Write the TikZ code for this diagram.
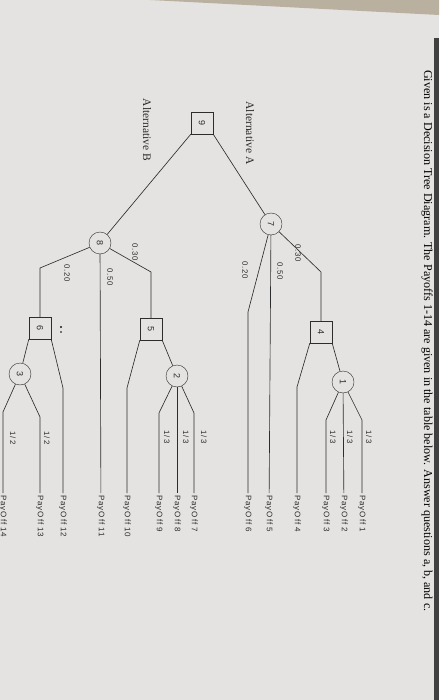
\documentclass[tikz,border=0pt]{standalone}
\usepackage{fontspec}
\setmainfont{Liberation Serif}
\newfontfamily\payfont[LetterSpace=12]{Liberation Sans}
\usetikzlibrary{positioning}

\definecolor{paper}{RGB}{229,227,225}
\definecolor{ink}{RGB}{45,45,45}
\definecolor{rim}{RGB}{185,176,160}

\tikzset{
  sq/.style={draw=ink, rotate=-90, minimum size=22pt, inner sep=0pt, text=ink, font=\payfont\fontsize{9}{9}\selectfont},
  ch/.style={draw=ink, circle, rotate=-90, minimum size=22pt, inner sep=0pt, text=ink, font=\payfont\fontsize{9}{9}\selectfont},
  pay/.style={rotate=-90, anchor=west, inner sep=2pt, text=ink, font=\payfont\fontsize{8}{8}\selectfont},
  prob/.style={rotate=-90, inner sep=0pt, text=ink, font=\payfont\fontsize{7.8}{8}\selectfont},
  alt/.style={rotate=-90, inner sep=0pt, text=ink, font=\fontsize{11.5}{12}\selectfont},
  br/.style={draw=ink, line width=0.65pt}
}

\begin{document}
\begin{tikzpicture}[x=1pt, y=-1pt]
\useasboundingbox (0,0) rectangle (439,700);
\fill[paper] (0,0) rectangle (439,700);
\fill[rim] (150,0) -- (439,0) -- (439,15) -- cycle;
\fill[black!75] (434,38) rectangle (439,700);

\def\yend{493}
\def\ybend{413}

\node[rotate=-90, anchor=west, inner sep=0pt, font=\fontsize{12.1}{13}\selectfont] (title) at (427,70)
  {Given is a Decision Tree Diagram. The Payoffs 1-14 are given in the table below. Answer questions a, b, and c.};

\node[sq] (n9) at (202,123) {9};
\node[alt] (altA) at (250,133) {Alternative A};
\node[alt] (altB) at (147,130) {Alternative B};

\node[ch] (c7) at (271,224) {7};
\node[ch] (c8) at (100,243) {8};
\node[sq] (n4) at (321,332) {4};
\node[sq] (n5) at (151,329) {5};
\node[sq] (n6) at (40,328) {6};
\node[ch] (c1) at (343,382) {1};
\node[ch] (c2) at (177,376) {2};
\node[ch] (c3) at (20,374) {3};

\node[pay] (p1) at (362,\yend) {PayOff 1};
\node[pay] (p2) at (344,\yend) {PayOff 2};
\node[pay] (p3) at (326,\yend) {PayOff 3};
\node[pay] (p4) at (297,\yend) {PayOff 4};
\node[pay] (p5) at (269,\yend) {PayOff 5};
\node[pay] (p6) at (248,\yend) {PayOff 6};
\node[pay] (p7) at (194,\yend) {PayOff 7};
\node[pay] (p8) at (177,\yend) {PayOff 8};
\node[pay] (p9) at (159,\yend) {PayOff 9};
\node[pay] (p10) at (127,\yend) {PayOff 10};
\node[pay] (p11) at (101,\yend) {PayOff 11};
\node[pay] (p12) at (63,\yend) {PayOff 12};
\node[pay] (p13) at (40,\yend) {PayOff 13};
\node[pay] (p14) at (3,\yend) {PayOff 14};

\coordinate (k74) at (321,272);
\coordinate (k76) at (248,312);
\coordinate (k44) at (297,387);
\coordinate (k11) at (362,420);
\coordinate (k13) at (326,420);
\coordinate (k85) at (151,272);
\coordinate (k86) at (40,268);
\coordinate (k510) at (127,388);
\coordinate (k27) at (194,\ybend);
\coordinate (k29) at (159,\ybend);
\coordinate (k612) at (63,388);
\coordinate (k313) at (40,417);
\coordinate (k314) at (3,412);

\draw[br] (n9.north east) -- (c7);
\draw[br] (n9.south east) -- (c8);

\draw[br] (c7) -- (k74) -- (n4);
\draw[br] (c7) -- (p5);
\draw[br] (c7) -- (k76) -- (p6);
\draw[br] (n4.north east) -- (c1);
\draw[br] (n4.south east) -- (k44) -- (p4);
\draw[br] (c1) -- (k11) -- (p1);
\draw[br] (c1) -- (p2);
\draw[br] (c1) -- (k13) -- (p3);

\draw[br] (c8) -- (k85) -- (n5);
\draw[br] (c8) -- (p11);
\draw[br] (c8) -- (k86) -- (n6);
\draw[br] (n5.north east) -- (c2);
\draw[br] (n5.south east) -- (k510) -- (p10);
\draw[br] (c2) -- (k27) -- (p7);
\draw[br] (c2) -- (p8);
\draw[br] (c2) -- (k29) -- (p9);
\draw[br] (n6.north east) -- (k612) -- (p12);
\draw[br] (n6.south east) -- (c3);
\draw[br] (c3) -- (k313) -- (p13);
\draw[br] (c3) -- (k314) -- (p14);

\node[prob] (q74) at (298,253) {0.30};
\node[prob] (q75) at (280,271) {0.50};
\node[prob] (q76) at (245,270) {0.20};
\node[prob] (q85) at (135,252) {0.30};
\node[prob] (q811) at (110,277) {0.50};
\node[prob] (q86) at (67,273) {0.20};
\node[prob] (q1a) at (369,437) {1/3};
\node[prob] (q1b) at (350,437) {1/3};
\node[prob] (q1c) at (333,437) {1/3};
\node[prob] (q2a) at (204,437) {1/3};
\node[prob] (q2b) at (186,437) {1/3};
\node[prob] (q2c) at (167,437) {1/3};
\node[prob] (q3a) at (47,438) {1/2};
\node[prob] (q3b) at (13,438) {1/2};

\filldraw[ink] (61,327) circle (0.9pt);
\filldraw[ink] (61,332) circle (0.7pt);
\end{tikzpicture}
\end{document}
